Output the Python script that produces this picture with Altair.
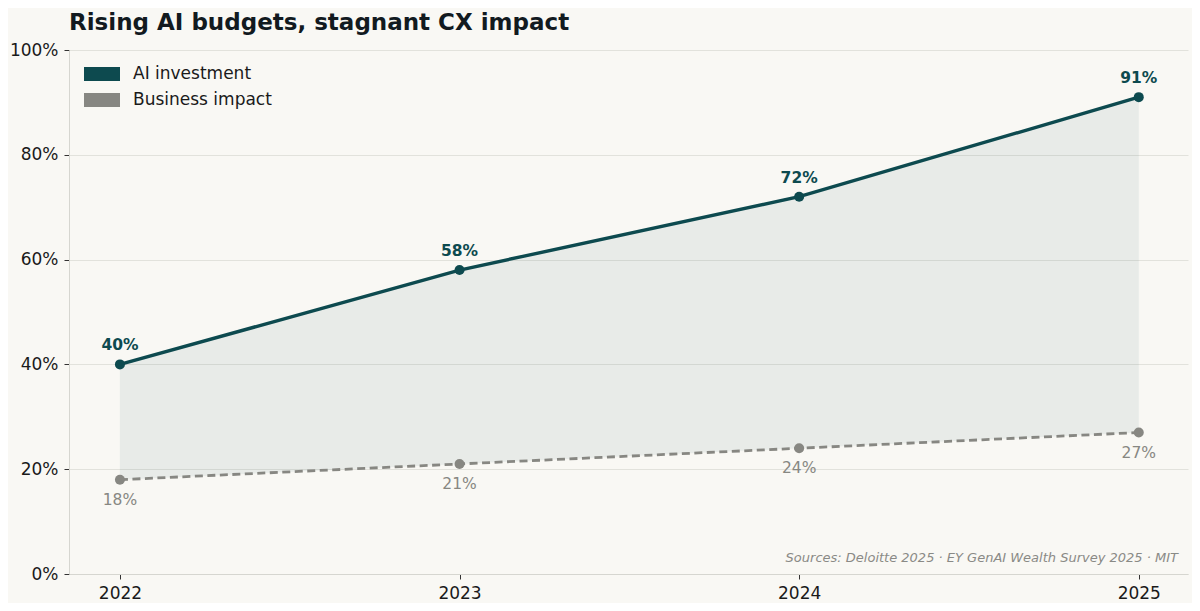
import altair as alt
import pandas as pd

years = [2022, 2023, 2024, 2025]
ai_investment = [0.40, 0.58, 0.72, 0.91]
business_impact = [0.18, 0.21, 0.24, 0.27]
series_names = ["AI investment", "Business impact"]
teal = "#0d4a4f"
gray = "#878782"
bg = "#f9f8f4"

wide = pd.DataFrame({"year": years, "inv": ai_investment, "imp": business_impact})
long = pd.DataFrame({
    "year": years * 2,
    "value": ai_investment + business_impact,
    "series": [series_names[0]] * 4 + [series_names[1]] * 4,
})

W, H = 1119, 524
xs = alt.Scale(domain=[2021.85, 2025.145], nice=False, zero=False)
ys = alt.Scale(domain=[0, 1], nice=False)

x_axis = alt.Axis(values=years, format="d", title=None, grid=False, labelFontSize=17,
                  labelColor="#1a1a1a", tickColor="#333333", tickSize=5, domainColor="#d6d6d0",
                  labelPadding=6)
y_axis = alt.Axis(values=[0, 0.2, 0.4, 0.6, 0.8, 1.0], format=".0%", title=None, grid=True,
                  gridColor="#e2e2dc", labelFontSize=17, labelColor="#1a1a1a", tickColor="#333333",
                  tickSize=5, domainColor="#d6d6d0", labelPadding=6)

base = alt.Chart(wide)

area = base.mark_area(color=teal, opacity=0.065, stroke=teal, strokeOpacity=0.1, strokeWidth=1).encode(
    x=alt.X("year:Q", scale=xs, axis=x_axis),
    y=alt.Y("imp:Q", scale=ys, axis=y_axis),
    y2="inv:Q",
)

line_inv = base.mark_line(color=teal, strokeWidth=3.4).encode(
    x=alt.X("year:Q", scale=xs), y=alt.Y("inv:Q", scale=ys))
line_imp = base.mark_line(color=gray, strokeWidth=2.8, strokeDash=[8, 4.5]).encode(
    x=alt.X("year:Q", scale=xs), y=alt.Y("imp:Q", scale=ys))

points = alt.Chart(long).mark_point(filled=True, size=100, opacity=1).encode(
    x=alt.X("year:Q", scale=xs),
    y=alt.Y("value:Q", scale=ys),
    color=alt.Color("series:N", scale=alt.Scale(domain=series_names, range=[teal, gray]),
                    legend=alt.Legend(title=None, orient="none", legendX=15, legendY=6,
                                      symbolType="M-1,-0.39H1V0.39H-1Z", symbolSize=1296,
                                      labelFontSize=17, labelColor="#1a1a1a", labelFont="DejaVu Sans",
                                      labelOffset=13, rowPadding=0, symbolStrokeWidth=0,
                                      symbolOpacity=1)),
)

lab_inv = base.mark_text(color=teal, fontWeight="bold", fontSize=15.5, dy=-19, font="DejaVu Sans").encode(
    x=alt.X("year:Q", scale=xs), y=alt.Y("inv:Q", scale=ys), text=alt.Text("inv:Q", format=".0%"))
lab_imp = base.mark_text(color=gray, fontSize=15.5, dy=20, font="DejaVu Sans").encode(
    x=alt.X("year:Q", scale=xs), y=alt.Y("imp:Q", scale=ys), text=alt.Text("imp:Q", format=".0%"))

source = alt.Chart(pd.DataFrame({"t": ["Sources: Deloitte 2025 · EY GenAI Wealth Survey 2025 · MIT"]})).mark_text(
    align="right", baseline="alphabetic", fontStyle="italic", fontSize=13, color="#8a8a86",
    font="DejaVu Sans").encode(text="t:N", x=alt.value(W - 10), y=alt.value(H - 12))

chart = alt.layer(area, line_inv, line_imp, points, lab_inv, lab_imp, source).properties(
    width=W, height=H,
    title=alt.TitleParams("Rising AI budgets, stagnant CX impact", anchor="start", frame="group",
                          fontSize=23, font="DejaVu Sans", fontWeight="bold", color="#121a1f", offset=6),
    autosize=alt.AutoSizeParams(type="none"),
    padding={"left": 61, "top": 42, "right": 4, "bottom": 29},
    background=bg,
).configure_view(stroke=None).configure_axis(labelFont="DejaVu Sans")

chart.save("out.html", embed_options={"renderer": "svg", "actions": False})
